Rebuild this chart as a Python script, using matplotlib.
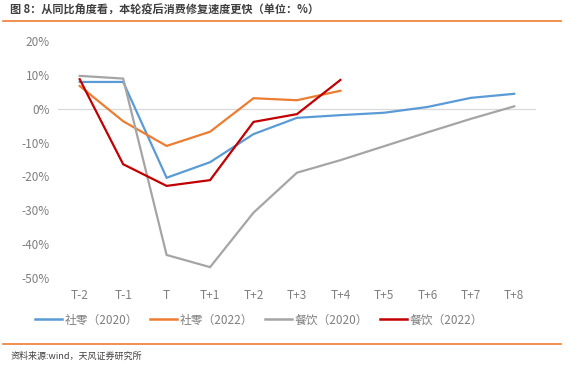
import matplotlib
matplotlib.use("Agg")
import matplotlib.pyplot as plt
from matplotlib.lines import Line2D

plt.rcParams['font.family'] = ['Noto Sans CJK SC', 'DejaVu Sans']

# categories on the x axis
periods = ['T-2', 'T-1', 'T', 'T+1', 'T+2', 'T+3', 'T+4', 'T+5', 'T+6', 'T+7', 'T+8']

# year-on-year growth, %
retail_2020 = [7.9, 7.9, -20.4, -15.8, -7.5, -2.7, -1.9, -1.2, 0.5, 3.2, 4.4]
retail_2022 = [6.7, -3.7, -11.0, -6.8, 3.1, 2.5, 5.3]
catering_2020 = [9.7, 8.9, -43.2, -46.8, -30.7, -18.9, -15.2, -11.1, -7.0, -3.0, 0.7]
catering_2022 = [8.7, -16.4, -22.8, -21.1, -3.9, -1.6, 8.5]

series_names = ['社零（2020）', '社零（2022）', '餐饮（2020）', '餐饮（2022）']
colors = ['#5b9bd5', '#ed7d31', '#a5a5a5', '#c00000']

yticks = [20, 10, 0, -10, -20, -30, -40, -50]

fig = plt.figure(figsize=(5.64, 3.65), dpi=100)
ax = fig.add_axes([0.1028, 0.2384, 0.8475, 0.6493])

all_series = [retail_2020, retail_2022, catering_2020, catering_2022]
for vals, c, name in zip(all_series, colors, series_names):
    ax.plot(range(len(vals)), vals, color=c, lw=1.6, label=name, solid_joinstyle='miter')

ax.axhline(0, color='#d9d9d9', lw=0.9, zorder=0)
ax.set_xlim(-0.5, len(periods) - 0.5)
ax.set_ylim(-50, 20)
ax.set_xticks(range(len(periods)))
ax.set_xticklabels(periods)
ax.set_yticks(yticks)
ax.set_yticklabels([f'{v}%' for v in yticks])
ax.tick_params(length=0, labelsize=8.5, labelcolor='#7f7f7f', pad=6)
ax.tick_params(axis='x', pad=8)
for s in ax.spines.values():
    s.set_visible(False)

handles = [Line2D([], [], color=c, lw=1.8) for c in colors]
fig.legend(handles, series_names, loc='center', bbox_to_anchor=(0.459, 0.123), ncol=4,
           frameon=False, fontsize=8.5, labelcolor='#7f7f7f', handlelength=2.3,
           handletextpad=0.2, columnspacing=1.0)

# title and rules
fig.text(0.018, 0.972, '图 8：从同比角度看，本轮疫后消费修复速度更快（单位：%）',
         fontsize=8, fontweight='bold', color='#404040', va='center', ha='left')
fig.add_artist(Line2D([0.005, 0.995], [0.942, 0.942], color='#ed7d31', lw=1.2))
fig.add_artist(Line2D([0.005, 0.995], [0.058, 0.058], color='#ed7d31', lw=1.2))
fig.text(0.018, 0.025, '资料来源:wind，天风证券研究所', fontsize=6.5, color='#404040',
         va='center', ha='left')

fig.savefig('out.png', dpi=100)
